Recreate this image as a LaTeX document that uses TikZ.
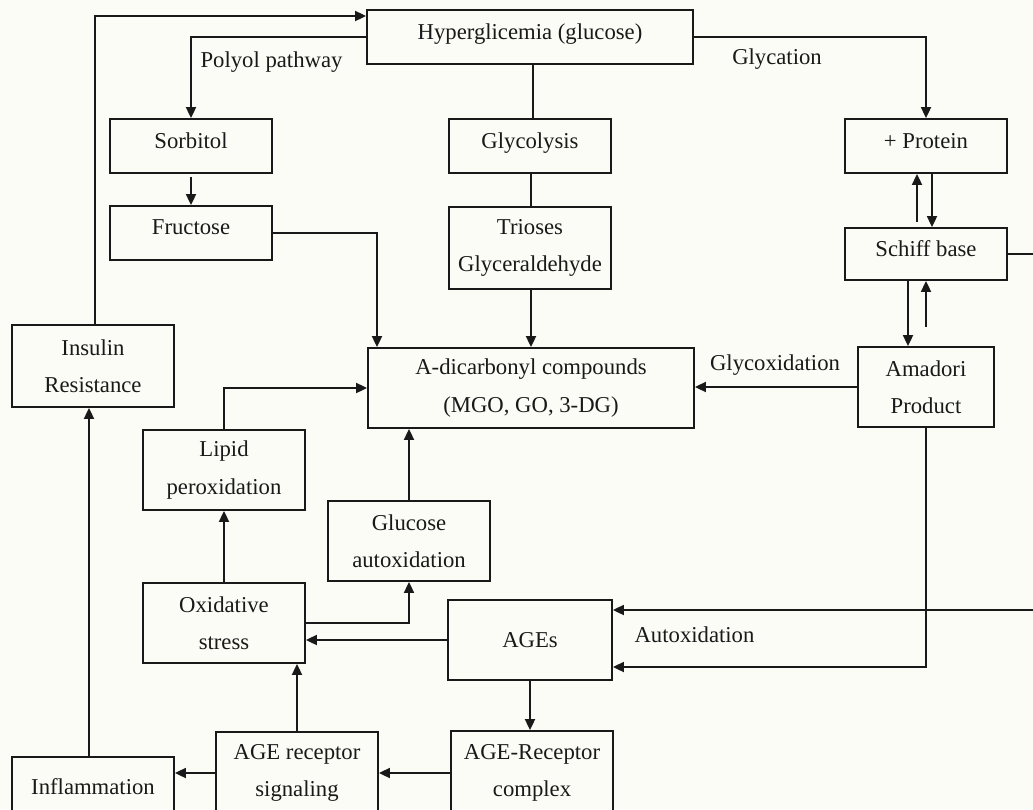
\documentclass[tikz,border=0pt]{standalone}
\usepackage{fontspec}
\setmainfont{Liberation Serif}
\usetikzlibrary{arrows.meta}
\definecolor{paper}{RGB}{252,252,247}
\definecolor{ink}{RGB}{25,25,25}

\begin{document}
\begin{tikzpicture}[
  x=1pt, y=-1pt,
  line width=1.8pt,
  color=ink,
  font=\fontsize{22.7}{37.5}\selectfont,
  box/.style={draw,rectangle,inner sep=0pt,minimum width=162pt,align=center},
  upper/.style={text depth=11pt},
  arr/.style={-{Triangle[length=11pt,width=10pt]}},
  lbl/.style={anchor=base,inner sep=0pt}
]
  \clip (0,0) rectangle (1033,809);
  \fill[paper] (0,0) rectangle (1033,809);

  % boxes
  \node[box,upper,minimum width=326pt,minimum height=54pt] (hyper) at (530,37) {Hyperglicemia (glucose)};
  \node[box,upper,minimum height=54pt] (sorbitol) at (191,146) {Sorbitol};
  \node[box,upper,minimum height=54pt] (fructose) at (191,233) {Fructose};
  \node[box,upper,minimum height=54pt] (glycolysis) at (530,146) {Glycolysis};
  \node[box,minimum height=82pt] (trioses) at (530,248) {Trioses\\Glyceraldehyde};
  \node[box,upper,minimum height=54pt] (protein) at (926,146) {+ Protein};
  \node[box,upper,minimum height=52pt] (schiff) at (926,254) {Schiff base};
  \node[box,minimum width=136pt,minimum height=80pt] (amadori) at (926,387) {Amadori\\Product};
  \node[box,minimum width=326pt,minimum height=80pt] (adicarb) at (531,388) {A-dicarbonyl compounds\\(MGO, GO, 3-DG)};
  \node[box,minimum height=82pt] (insulin) at (93,366) {Insulin\\Resistance};
  \node[box,minimum height=80pt] (lipid) at (224,470) {Lipid\\peroxidation};
  \node[box,minimum height=80pt] (glucose) at (409,541) {Glucose\\autoxidation};
  \node[box,minimum height=80pt] (oxid) at (224,623) {Oxidative\\stress};
  \node[box,minimum width=164pt,minimum height=80pt] (ages) at (530,640) {AGEs};
  \node[box,minimum height=84pt] (complex) at (532,773) {AGE-Receptor\\complex};
  \node[box,minimum height=82pt] (signal) at (297,773) {AGE receptor\\signaling};
  \node[box,minimum height=60pt] (inflam) at (93,787) {Inflammation};

  % labels
  \node[lbl] (polyol) at (271.5,67) {Polyol pathway};
  \node[lbl] (glycation) at (777,64) {Glycation};
  \node[lbl] (glycox) at (775,370) {Glycoxidation};
  \node[lbl] (autox) at (694.5,642) {Autoxidation};

  % top part
  \draw[arr] ([xshift=2pt]insulin.north) |- ([yshift=21pt]hyper.west);
  \draw[arr] (hyper.west) -| (sorbitol.north);
  \draw[arr] (sorbitol.south) ++(0,3) -- (fructose.north);
  \draw[arr] (fructose.east) -| ([xshift=-154pt]adicarb.north);
  \draw ([xshift=3pt]hyper.south) -- ([xshift=3pt]glycolysis.north);
  \draw ([xshift=1pt]glycolysis.south) -- ([xshift=1pt]trioses.north);
  \draw[arr] ([xshift=1pt]trioses.south) -- ([xshift=1pt]trioses.south |- adicarb.north);
  \draw[arr] (hyper.east) -| (protein.north);
  \draw[arr,shorten <=5pt] ([xshift=-9pt]schiff.north) -- ([xshift=-9pt]protein.south);
  \draw[arr] ([xshift=6pt]protein.south) -- ([xshift=6pt]schiff.north);
  \draw[arr] ([xshift=-18pt]schiff.south) -- ([xshift=-18pt]schiff.south |- amadori.north);
  \draw[arr,shorten <=19pt] (amadori.north) -- (schiff.south);
  \draw[arr] (amadori.west) -- (amadori.west -| adicarb.east);

  % right side to AGEs
  \draw[arr] (schiff.east) -- ++(38,0) |- ([yshift=30pt]ages.east);
  \draw[arr] (amadori.south) |- ([yshift=-27pt]ages.east);

  % middle and bottom
  \draw[arr] (lipid.north) |- (adicarb.west);
  \draw[arr] (glucose.north) -- (glucose.north |- adicarb.south);
  \draw[arr] (oxid.north) -- (lipid.south);
  \draw[arr] (oxid.east) -| (glucose.south);
  \draw[arr] (ages.west) -- (ages.west -| oxid.east);
  \draw[arr] (ages.south) -- (ages.south |- complex.north);
  \draw[arr] (complex.west) -- (signal.east);
  \draw[arr] (signal.north) -- (signal.north |- oxid.south);
  \draw[arr] (signal.west) -- (signal.west -| inflam.east);
  \draw[arr] ([xshift=-4pt]inflam.north) -- ([xshift=-4pt]inflam.north |- insulin.south);
\end{tikzpicture}
\end{document}
